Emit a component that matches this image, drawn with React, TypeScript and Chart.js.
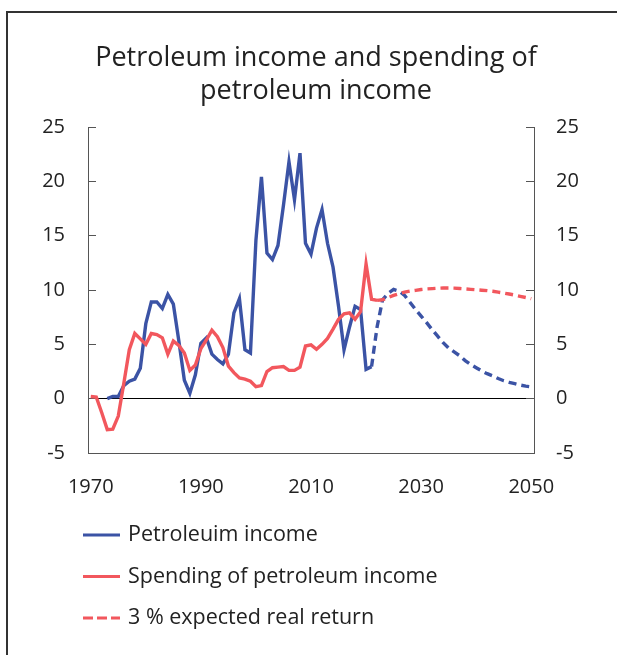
import React, { useEffect, useRef } from 'react';
import { Chart, registerables } from 'chart.js';

Chart.register(...registerables);

// ---- Data ----
const titleLines = ['Petroleum income and spending of', 'petroleum income'];

const incomeStartYear = 1973;
const incomeActual = [
  0.0, 0.2, 0.2, 1.2, 1.6, 1.8, 2.8,
  6.9, 8.9, 8.9, 8.3, 9.6, 8.7, 5.3, 1.7, 0.5, 2.2,
  5.1, 5.6, 4.1, 3.6, 3.2, 4.1, 7.9, 9.2, 4.5, 4.2,
  14.6, 20.4, 13.4, 12.8, 14.1, 17.8, 21.8, 18.3, 22.6, 14.3,
  13.3, 15.7, 17.4, 14.3, 12.1, 8.5, 4.5, 6.6, 8.5, 8.2,
  2.7, 2.95,
];

const incomeProjStartYear = 2021;
const incomeProjected = [
  2.95, 6.6, 9.1, 9.7, 10.05, 9.9, 9.5, 8.85, 8.2, 7.6,
  7.0, 6.35, 5.75, 5.15, 4.65, 4.3, 3.95, 3.5, 3.15, 2.85,
  2.55, 2.3, 2.1, 1.85, 1.65, 1.5, 1.38, 1.25, 1.15, 1.08,
];

const spendingStartYear = 1970;
const spending = [
  0.2, 0.15, -1.3, -2.85, -2.8, -1.6, 1.4, 4.5, 6.0, 5.5,
  5.0, 6.0, 5.9, 5.6, 4.1, 5.3, 4.9, 4.2, 2.6, 3.1,
  4.6, 5.4, 6.3, 5.7, 4.7, 3.0, 2.4, 1.9, 1.8, 1.6,
  1.1, 1.2, 2.5, 2.85, 2.9, 2.95, 2.6, 2.6, 2.9, 4.85,
  4.95, 4.55, 5.0, 5.55, 6.4, 7.3, 7.8, 7.9, 7.3, 8.0,
  12.4, 9.15, 9.05,
];

const returnStartYear = 2022;
const expectedReturn = [
  9.05, 9.1, 9.3, 9.5, 9.65, 9.8, 9.9, 9.97, 10.05, 10.1,
  10.13, 10.16, 10.18, 10.18, 10.17, 10.14, 10.1, 10.06, 10.02, 9.98,
  9.94, 9.88, 9.8, 9.72, 9.63, 9.53, 9.42, 9.31, 9.2,
];

const xTickYears = [1970, 1990, 2010, 2030, 2050];
const yMin = -5;
const yMax = 25;
const yStep = 5;

const legendLabels = ['Petroleuim income', 'Spending of petroleum income', '3 % expected real return'];

// ---- Style ----
const BLUE = '#3b53a5';
const RED = '#f2575d';
const AXIS = '#555555';
const TEXT = '#222222';
const FONT = "'Open Sans', sans-serif";

const toPoints = (start: number, values: number[]) =>
  values.map((v, i) => ({ x: start + i, y: v }));

const frame = {
  id: 'frame',
  beforeDraw(chart: any) {
    const ctx = chart.ctx;
    ctx.save();
    ctx.strokeStyle = '#333333';
    ctx.lineWidth = 2;
    ctx.beginPath();
    ctx.moveTo(7, chart.height + 5);
    ctx.lineTo(7, 12);
    ctx.lineTo(chart.width + 5, 12);
    ctx.stroke();
    ctx.restore();
  },
};

const stackedLegend = {
  id: 'stackedLegend',
  afterDraw(chart: any) {
    const ctx = chart.ctx;
    const items = chart.data.datasets
      .filter((ds: any) => ds.legendLabel)
      .sort((a: any, b: any) => a.legendRank - b.legendRank);
    const x0 = 83;
    const x1 = 120;
    const tx = 128;
    const y0 = 535;
    const gap = 41.5;
    ctx.save();
    items.forEach((ds: any, i: number) => {
      const y = y0 + i * gap;
      ctx.beginPath();
      ctx.strokeStyle = ds.borderColor;
      ctx.lineWidth = 3;
      ctx.setLineDash(ds.borderDash && ds.borderDash.length ? [10, 4] : []);
      ctx.moveTo(x0, y);
      ctx.lineTo(x1, y);
      ctx.stroke();
      ctx.setLineDash([]);
      ctx.fillStyle = TEXT;
      ctx.font = `21.5px ${FONT}`;
      ctx.textBaseline = 'middle';
      ctx.textAlign = 'left';
      ctx.fillText(ds.legendLabel, tx, y);
    });
    ctx.restore();
  },
};

export default function App() {
  const ref = useRef<HTMLCanvasElement | null>(null);

  useEffect(() => {
    if (!ref.current) return;
    const yAxisCommon = (position: 'left' | 'right', width: number, pad: number) => ({
      type: 'linear' as const,
      position,
      min: yMin,
      max: yMax,
      ticks: {
        stepSize: yStep,
        padding: pad,
        color: TEXT,
        font: { family: FONT, size: 20 },
      },
      grid: {
        drawOnChartArea: position === 'left',
        color: (c: any) => (c.tick && c.tick.value === 0 ? '#000000' : 'rgba(0,0,0,0)'),
        lineWidth: 1,
        tickColor: AXIS,
        tickLength: -8,
        drawTicks: true,
      },
      border: { display: true, color: AXIS, width: 1 },
      afterFit: (s: any) => {
        s.width = width;
      },
    });

    const lineStyle = { borderWidth: 3.4, pointRadius: 0, tension: 0 };

    const chart = new Chart(ref.current, {
      type: 'line',
      data: {
        datasets: [
          {
            label: 'spending',
            legendLabel: legendLabels[1],
            legendRank: 1,
            data: toPoints(spendingStartYear, spending),
            borderColor: RED,
            backgroundColor: RED,
            ...lineStyle,
          } as any,
          {
            label: 'income',
            legendLabel: legendLabels[0],
            legendRank: 0,
            data: toPoints(incomeStartYear, incomeActual),
            borderColor: BLUE,
            backgroundColor: BLUE,
            ...lineStyle,
          } as any,
          {
            label: 'return',
            legendLabel: legendLabels[2],
            legendRank: 2,
            data: toPoints(returnStartYear, expectedReturn),
            borderColor: RED,
            backgroundColor: RED,
            borderDash: [8, 5],
            ...lineStyle,
          } as any,
          {
            label: 'income projection',
            data: toPoints(incomeProjStartYear, incomeProjected),
            borderColor: BLUE,
            backgroundColor: BLUE,
            borderDash: [8, 5],
            ...lineStyle,
          } as any,
        ],
      },
      options: {
        responsive: false,
        animation: false,
        devicePixelRatio: 1,
        layout: { padding: { left: 15, right: 0, top: 0, bottom: 0 } },
        plugins: {
          legend: { display: false },
          tooltip: { enabled: false },
          title: {
            display: true,
            text: titleLines,
            color: TEXT,
            font: { family: FONT, size: 27, weight: 'normal', lineHeight: 33 / 27 },
            padding: { top: 42, bottom: 19 },
          },
        },
        scales: {
          x: {
            type: 'linear',
            position: 'bottom',
            min: 1969.5,
            max: 2050.5,
            afterBuildTicks: (s: any) => {
              s.ticks = xTickYears.map((v) => ({ value: v }));
            },
            ticks: {
              padding: 22,
              color: TEXT,
              maxRotation: 0,
              autoSkip: false,
              font: { family: FONT, size: 20 },
              callback: (v: any) => String(v),
            },
            grid: { drawOnChartArea: false, drawTicks: false },
            border: { display: true, color: AXIS, width: 1 },
            afterFit: (s: any) => {
              s.height = 202;
            },
          } as any,
          y: yAxisCommon('left', 73, 31) as any,
          y2: yAxisCommon('right', 83, 30) as any,
        },
      } as any,
      plugins: [frame, stackedLegend],
    });
    return () => chart.destroy();
  }, []);

  return (
    <div style={{ position: 'absolute', left: 0, top: 0, width: 617, height: 655, background: '#fff', overflow: 'hidden' }}>
      <canvas ref={ref} width={617} height={655} style={{ display: 'block', width: 617, height: 655 }} />
    </div>
  );
}
